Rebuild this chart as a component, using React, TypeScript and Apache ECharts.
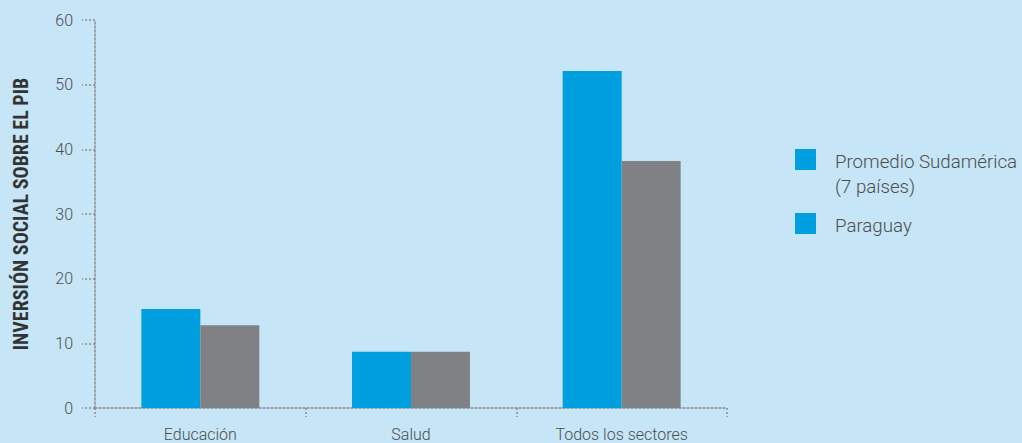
import React, { useEffect, useRef } from "react";
import * as echarts from "echarts";

const categories = ["Educación", "Salud", "Todos los sectores"];
const promedioValues = [15.3, 8.7, 52.1];
const paraguayValues = [12.8, 8.7, 38.2];
const seriesNames = ["Promedio Sudamérica\n(7 países)", "Paraguay"];
const yAxisName = "INVERSIÓN SOCIAL SOBRE EL PIB";

const BLUE = "#00a0e0";
const GRAY = "#808184";
const BG = "#c6e5f6";
const TEXT = "#4d4d4f";
const AXIS = "#8a8c8e";

export default function App() {
  const ref = useRef<HTMLDivElement>(null);
  useEffect(() => {
    document.body.style.margin = "0";
    if (!ref.current) return;
    const chart = echarts.init(ref.current, null, { renderer: "svg" });
    const dotted = { color: AXIS, width: 1.5, type: [2, 2] as any };
    chart.setOption({
      animation: false,
      backgroundColor: BG,
      grid: { left: 95, right: 295, top: 20, bottom: 35 },
      xAxis: {
        type: "category",
        data: categories,
        axisLine: { show: true, lineStyle: dotted },
        axisTick: { show: true, length: 9, lineStyle: dotted },
        axisLabel: {
          color: TEXT,
          fontSize: 16,
          fontWeight: 300,
          fontFamily: "Roboto",
          margin: 18,
        },
      },
      yAxis: {
        type: "value",
        min: 0,
        max: 60,
        interval: 10,
        name: yAxisName,
        nameLocation: "middle",
        nameRotate: 90,
        nameGap: 64,
        nameTextStyle: {
          color: "#333333",
          fontSize: 20,
          fontWeight: "bold",
          fontFamily: "'Roboto Condensed', 'Liberation Sans Narrow', Roboto",
        },
        axisLine: { show: true, lineStyle: dotted },
        axisTick: { show: true, length: 13, lineStyle: dotted },
        splitLine: { show: false },
        axisLabel: {
          color: TEXT,
          fontSize: 16,
          fontWeight: 300,
          fontFamily: "Roboto",
          margin: 22,
        },
      },
      series: [
        {
          name: seriesNames[0],
          type: "bar",
          data: promedioValues,
          itemStyle: { color: BLUE },
          barGap: "0%",
          barCategoryGap: "44%",
        },
        {
          name: seriesNames[1],
          type: "bar",
          data: paraguayValues,
          itemStyle: { color: GRAY },
          barGap: "0%",
          barCategoryGap: "44%",
        },
      ],
      graphic: [
        { type: "rect", left: 795, top: 149, shape: { width: 21, height: 21 }, style: { fill: BLUE } },
        {
          type: "text",
          left: 835,
          top: 149,
          style: {
            text: seriesNames[0],
            fill: TEXT,
            fontSize: 18.7,
            fontWeight: 300,
            fontFamily: "Roboto",
            lineHeight: 25,
          },
        },
        { type: "rect", left: 795, top: 213, shape: { width: 21, height: 21 }, style: { fill: BLUE } },
        {
          type: "text",
          left: 835,
          top: 213,
          style: {
            text: seriesNames[1],
            fill: TEXT,
            fontSize: 18.7,
            fontWeight: 300,
            fontFamily: "Roboto",
            lineHeight: 25,
          },
        },
      ],
    });
    return () => chart.dispose();
  }, []);
  return <div ref={ref} style={{ width: 1022, height: 443 }} />;
}
